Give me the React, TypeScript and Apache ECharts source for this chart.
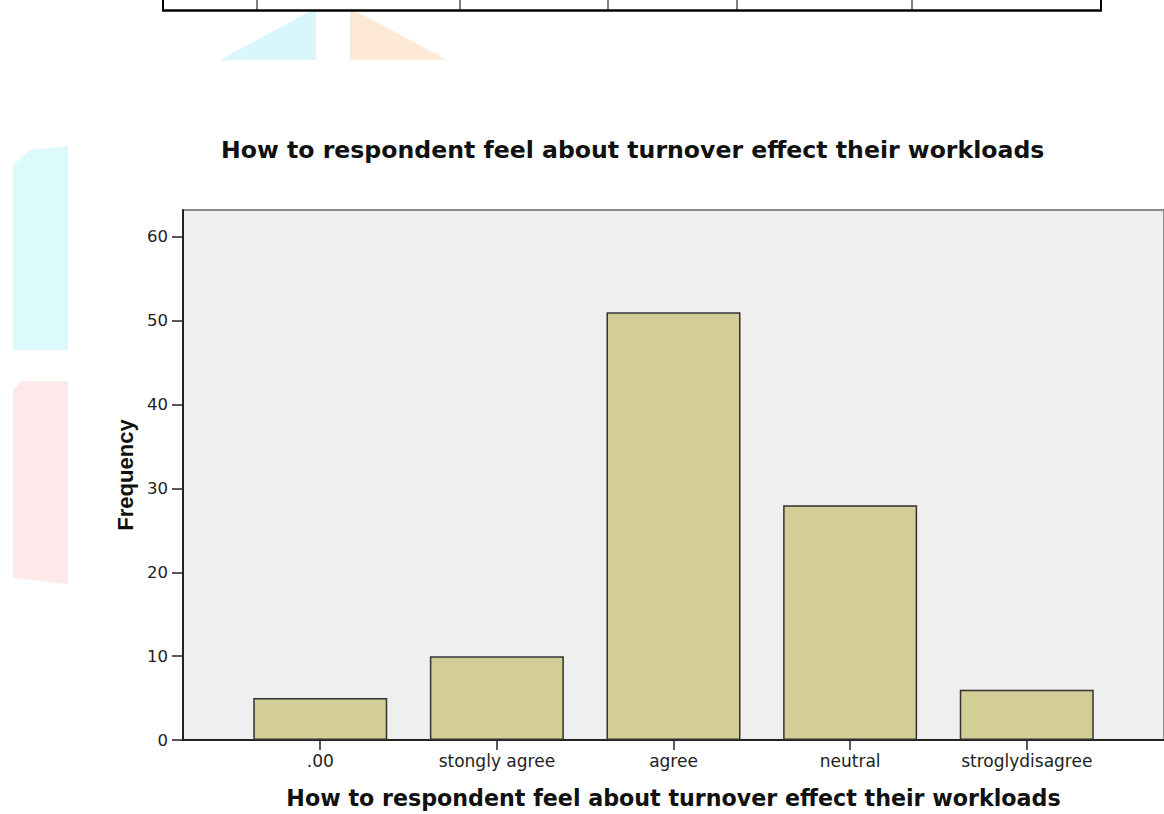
import React, { useEffect, useRef } from "react";
import * as echarts from "echarts";

const titleText = "How to respondent feel about turnover effect their workloads";
const xAxisTitle = "How to respondent feel about turnover effect their workloads";
const yAxisTitle = "Frequency";
const categories = [".00", "stongly agree", "agree", "neutral", "stroglydisagree"];
const frequencies = [5, 10, 51, 28, 6];
const yTicks = [0, 10, 20, 30, 40, 50, 60];
const categoryPositions = [0, 1, 2, 3, 4];

export default function App() {
  const ref = useRef<HTMLDivElement>(null);

  useEffect(() => {
    if (!ref.current) return;
    const chart = echarts.init(ref.current, null, { renderer: "svg" });

    const tableXs = [163, 257, 460, 608, 737, 912, 1101];
    const graphics: any[] = [
      {
        type: "polygon",
        shape: { points: [[13, 165], [30, 150], [68, 146], [68, 350], [13, 350]] },
        style: { fill: "#dcf9fb" },
        silent: true,
        z: -10,
      },
      {
        type: "polygon",
        shape: { points: [[13, 390], [22, 381], [68, 381], [68, 584], [13, 578]] },
        style: { fill: "#fde9e9" },
        silent: true,
        z: -10,
      },
      {
        type: "polygon",
        shape: { points: [[220, 60], [316, 8], [316, 60]] },
        style: { fill: "#d9f7fa" },
        silent: true,
        z: -10,
      },
      {
        type: "polygon",
        shape: { points: [[350, 8], [447, 60], [350, 60]] },
        style: { fill: "#fde9d6" },
        silent: true,
        z: -10,
      },
      {
        type: "line",
        shape: { x1: 162, y1: 10.5, x2: 1102, y2: 10.5 },
        style: { stroke: "#000", lineWidth: 2.5 },
        silent: true,
      },
      ...tableXs.map((x) => ({
        type: "line",
        shape: { x1: x, y1: 0, x2: x, y2: 11 },
        style: { stroke: "#000", lineWidth: x === 163 || x === 1101 ? 2 : 1 },
        silent: true,
      })),
    ];

    chart.setOption({
      animation: false,
      backgroundColor: "#ffffff",
      title: {
        text: titleText,
        left: 221,
        top: 138,
        padding: 0,
        textStyle: {
          fontFamily: "DejaVu Sans",
          fontWeight: "bold",
          fontSize: 23.6,
          color: "#111",
        },
      },
      grid: {
        left: 183,
        top: 210,
        width: 987,
        height: 537,
        show: true,
        backgroundColor: "#efefef",
        borderColor: "#8a8a8a",
        borderWidth: 2,
      },
      xAxis: {
        type: "value",
        min: -0.777,
        max: 4.777,
        splitLine: { show: false },
        axisLine: { onZero: false, lineStyle: { color: "#222", width: 2 } },
        axisTick: {
          show: true,
          customValues: categoryPositions,
          length: 10,
          lineStyle: { color: "#222", width: 1.5 },
        },
        axisLabel: {
          customValues: categoryPositions,
          formatter: (v: number) => categories[Math.round(v)] ?? "",
          margin: 12,
          fontFamily: "DejaVu Sans",
          fontSize: 17,
          color: "#222",
        },
        name: xAxisTitle,
        nameLocation: "middle",
        nameGap: 47,
        nameTextStyle: {
          fontFamily: "DejaVu Sans",
          fontWeight: "bold",
          fontSize: 22.2,
          color: "#111",
        },
      },
      yAxis: {
        type: "value",
        min: 0,
        max: 63.2,
        interval: 10,
        splitLine: { show: false },
        axisLine: { show: true, onZero: false, lineStyle: { color: "#222", width: 2 } },
        axisTick: {
          show: true,
          customValues: yTicks,
          length: 11,
          lineStyle: { color: "#222", width: 1.5 },
        },
        axisLabel: {
          customValues: yTicks,
          margin: 15,
          fontFamily: "DejaVu Sans",
          fontSize: 16.5,
          color: "#222",
        },
        name: yAxisTitle,
        nameLocation: "middle",
        nameGap: 46,
        nameTextStyle: {
          fontFamily: "Liberation Sans",
          fontWeight: "bold",
          fontSize: 22,
          color: "#111",
        },
      },
      series: [
        {
          type: "bar",
          data: frequencies.map((v, i) => [categoryPositions[i], v]),
          barWidth: 134,
          itemStyle: {
            color: "#d3ce97",
            borderColor: "#333",
            borderWidth: 1.5,
          },
        },
      ],
      graphic: graphics,
    });

    return () => chart.dispose();
  }, []);

  return (
    <div
      ref={ref}
      style={{ position: "absolute", left: 0, top: 0, width: 1164, height: 814 }}
    />
  );
}
